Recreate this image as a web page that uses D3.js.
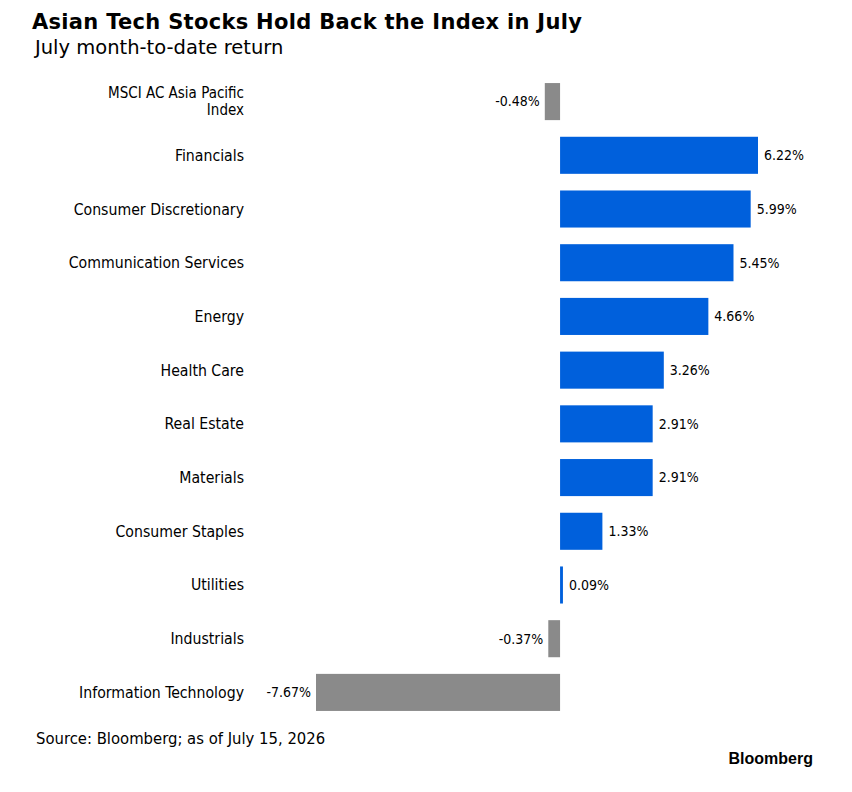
<!DOCTYPE html>
<html>
<head>
<meta charset="utf-8">
<script src="https://cdn.jsdelivr.net/npm/d3@7"></script>
<style>
  body { margin: 0; background: #fff; }
</style>
</head>
<body>
<div id="chart"></div>
<script>
// chart data
var categories = ["MSCI AC Asia Pacific Index", "Financials", "Consumer Discretionary",
  "Communication Services", "Energy", "Health Care", "Real Estate", "Materials",
  "Consumer Staples", "Utilities", "Industrials", "Information Technology"];
var values = [-0.48, 6.22, 5.99, 5.45, 4.66, 3.26, 2.91, 2.91, 1.33, 0.09, -0.37, -7.67];

var width = 852, height = 792;
var cond = '"DejaVu Sans Condensed", "DejaVu Sans", sans-serif';
var wide = '"DejaVu Sans", sans-serif';

var svg = d3.select("#chart")
  .append("svg")
    .attr("width", width)
    .attr("height", height);

// scales
var x = d3.scaleLinear()
    .domain([-7.67, 6.22])
    .range([316, 758]);

var y = d3.scaleBand()
    .domain(categories)
    .range([75, 719])
    .paddingInner(0.31)
    .paddingOuter(0.15);

// title
svg.append("text")
  .attr("x", 32).attr("y", 29)
  .style("font-family", wide)
  .style("font-size", "21px").style("font-weight", "bold")
  .style("letter-spacing", "0.3px")
  .attr("fill", "#000")
  .text("Asian Tech Stocks Hold Back the Index in July");

svg.append("text")
  .attr("x", 35).attr("y", 54)
  .style("font-family", wide)
  .style("font-size", "19.5px")
  .attr("fill", "#000")
  .text("July month-to-date return");

// bars
svg.selectAll("rect.bar")
  .data(values)
  .enter()
  .append("rect")
    .attr("class", "bar")
    .attr("x", function(d) { return Math.min(x(0), x(d)); })
    .attr("y", function(d, i) { return y(categories[i]); })
    .attr("width", function(d) { return Math.max(2, Math.abs(x(d) - x(0))); })
    .attr("height", y.bandwidth())
    .attr("fill", function(d) { return d < 0 ? "#8a8a8a" : "#0060dc"; });

// value labels
svg.selectAll("text.val")
  .data(values)
  .enter()
  .append("text")
    .attr("class", "val")
    .attr("x", function(d) { return d < 0 ? x(d) - 5 : Math.max(x(d), x(0) + 2) + 6; })
    .attr("y", function(d, i) { return y(categories[i]) + y.bandwidth() / 2; })
    .attr("dy", "0.35em")
    .attr("text-anchor", function(d) { return d < 0 ? "end" : "start"; })
    .style("font-family", cond)
    .style("font-size", "14px")
    .attr("fill", "#000")
    .text(function(d) { return d.toFixed(2) + "%"; });

// category labels (the long one gets two lines)
var catLines = {"MSCI AC Asia Pacific Index": ["MSCI AC Asia Pacific", "Index"]};
categories.forEach(function(c) {
  var lines = catLines[c] || [c];
  var cy = y(c) + y.bandwidth() / 2;
  lines.forEach(function(l, k) {
    svg.append("text")
      .attr("x", 244)
      .attr("y", cy + (k - (lines.length - 1) / 2) * 17)
      .attr("dy", "0.35em")
      .attr("text-anchor", "end")
      .style("font-family", cond)
      .style("font-size", lines.length > 1 ? "15px" : "15.7px")
      .attr("fill", "#000")
      .text(l);
  });
});

// footer
svg.append("text")
  .attr("x", 36).attr("y", 744)
  .style("font-family", cond)
  .style("font-size", "16.5px")
  .attr("fill", "#000")
  .text("Source: Bloomberg; as of July 15, 2026");

svg.append("text")
  .attr("x", 813).attr("y", 764)
  .attr("text-anchor", "end")
  .style("font-family", '"Liberation Sans Narrow", "Liberation Sans", sans-serif')
  .style("font-size", "16px").style("font-weight", "bold")
  .attr("fill", "#000")
  .text("Bloomberg");
</script>
</body>
</html>
